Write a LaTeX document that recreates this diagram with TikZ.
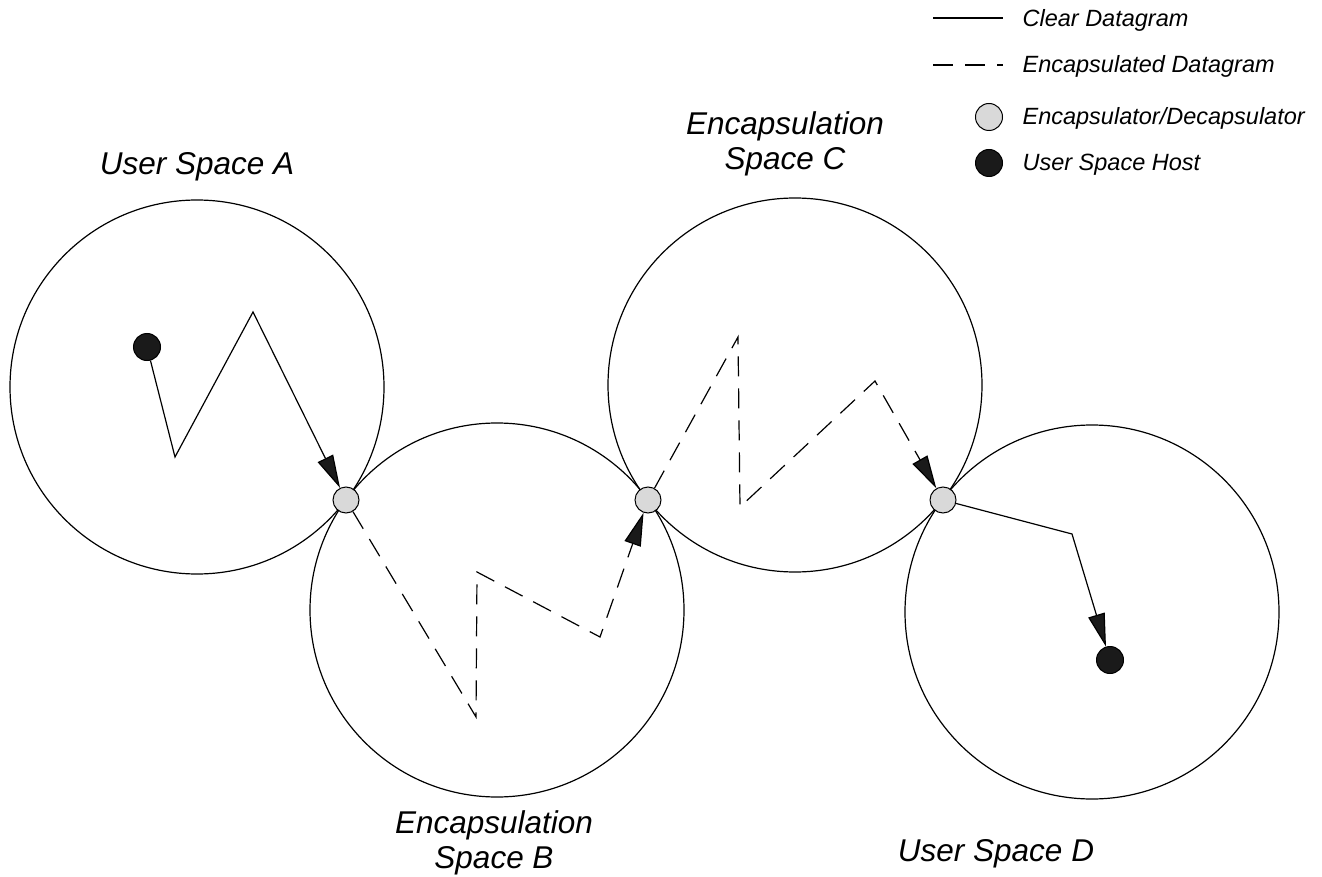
\documentclass[tikz,border=0pt]{standalone}
\usepackage{fontspec}
\setmainfont{Liberation Sans}
\usetikzlibrary{arrows.meta}
\definecolor{encgray}{HTML}{D9D9D9}
\definecolor{hostblack}{HTML}{1A1A1A}
\begin{document}
\begin{tikzpicture}[x=1pt,y=-1pt,line width=1.2pt,
  spacecirc/.style={draw,circle,minimum size=374pt,inner sep=0pt},
  encnode/.style={draw,circle,fill=encgray,minimum size=26pt,inner sep=0pt,line width=1pt},
  hostnode/.style={draw,circle,fill=hostblack,minimum size=27pt,inner sep=0pt,line width=1pt},
  clear/.style={line width=1.2pt},
  encap/.style={line width=1.2pt,dash pattern=on 20pt off 12pt},
  tip/.style={-{Triangle[length=33pt,width=17pt,fill=hostblack]}},
  biglabel/.style={font=\fontsize{31.5}{35}\selectfont\itshape,align=center,inner sep=0pt},
  leglabel/.style={font=\fontsize{23.5}{27}\selectfont\itshape,inner sep=0pt,anchor=base west}]
\useasboundingbox (0,0) rectangle (1322,877);

% spaces
\node[spacecirc] (SA) at (197,387) {};
\node[spacecirc] (SB) at (497,610) {};
\node[spacecirc] (SC) at (795,385) {};
\node[spacecirc] (SD) at (1092,612) {};

% labels
\node[biglabel,anchor=base] (LA) at (197,175) {User Space A};
\node[biglabel,anchor=base] (LC) at (785,170) {Encapsulation\\Space C};
\node[biglabel,anchor=base] (LB) at (494,868) {Encapsulation\\Space B};
\node[biglabel,anchor=base] (LD) at (996,861) {User Space D};

% path coordinates
\coordinate (a1) at (175,457);
\coordinate (a2) at (253,312);
\coordinate (b1) at (476,717);
\coordinate (b2) at (477,572);
\coordinate (b3) at (600,637);
\coordinate (c1) at (738,337);
\coordinate (c2) at (740,507);
\coordinate (c3) at (875,381);
\coordinate (d1) at (1072,534);

% nodes
\node[hostnode] (HA) at (147,347) {};
\node[hostnode] (HD) at (1110,660) {};
\node[encnode] (EAB) at (346,500) {};
\node[encnode] (EBC) at (648,500) {};
\node[encnode] (ECD) at (943,500) {};

% datagrams
\draw[clear,tip] (HA) -- (a1) -- (a2) -- (EAB);
\draw[encap,tip] (EAB) -- (b1) -- (b2) -- (b3) -- (EBC);
\draw[encap,tip] (EBC) -- (c1) -- (c2) -- (c3) -- (ECD);
\draw[clear,tip] (ECD) -- (d1) -- (HD);

% legend
\coordinate (l1a) at (933,18);
\coordinate (l1b) at (1003,18);
\coordinate (l2a) at (933,65);
\coordinate (l2b) at (1003,65);
\draw[clear] (l1a) -- (l1b);
\draw[encap] (l2a) -- (l2b);
\node[encnode,minimum size=27pt] (LE) at (989,117) {};
\node[hostnode] (LH) at (989,163) {};
\node[leglabel] (T1) at (1022,27) {Clear Datagram};
\node[leglabel] (T2) at (1022,73) {Encapsulated Datagram};
\node[leglabel] (T3) at (1022,125) {Encapsulator/Decapsulator};
\node[leglabel] (T4) at (1022,171) {User Space Host};
\end{tikzpicture}
\end{document}
